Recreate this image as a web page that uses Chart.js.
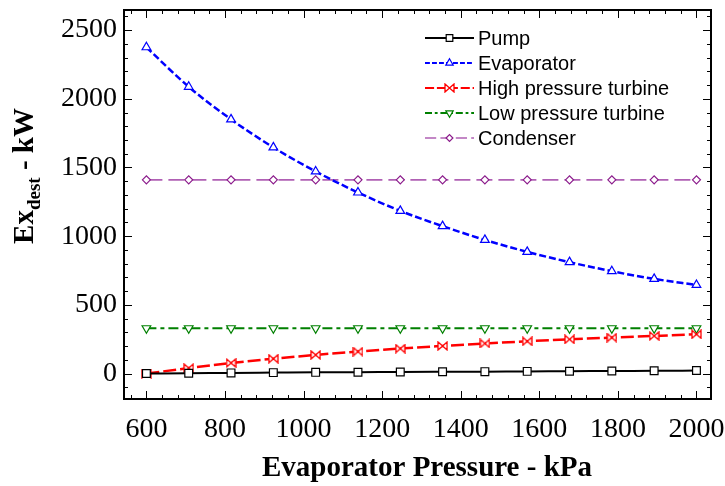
<!DOCTYPE html>
<html>
<head>
<meta charset="utf-8">
<script src="https://cdn.jsdelivr.net/npm/chart.js@4/dist/chart.umd.min.js"></script>
<style>
  html, body { margin: 0; padding: 0; background: #fff; }
  #wrap { width: 725px; height: 486px; }
</style>
</head>
<body>
<div id="wrap"><canvas id="c" width="725" height="486"></canvas></div>
<script>
// Evaporator pressure (kPa) and exergy destruction per component (kW)
const pressures  = [600, 707.7, 815.4, 923.1, 1030.8, 1138.5, 1246.2, 1353.8, 1461.5, 1569.2, 1676.9, 1784.6, 1892.3, 2000];
const pump       = [0, 2, 5, 7, 9, 10, 12, 13, 14, 16, 17, 19, 20, 22];
const evaporator = [2375, 2087, 1850, 1646, 1471, 1318, 1184, 1073, 973, 886, 811, 745, 689, 645];
const hpTurbine  = [0, 40, 77, 108, 136, 160, 182, 201, 219, 235, 249, 262, 274, 286];
const lpTurbine  = [330, 330, 330, 330, 330, 330, 330, 330, 330, 330, 330, 330, 330, 330];
const condenser  = [1410, 1410, 1410, 1410, 1410, 1410, 1410, 1410, 1410, 1410, 1410, 1410, 1410, 1410];

const seriesNames = ['Pump', 'Evaporator', 'High pressure turbine', 'Low pressure turbine', 'Condenser'];
const xTicks = [600, 800, 1000, 1200, 1400, 1600, 1800, 2000];
const yTicks = [0, 500, 1000, 1500, 2000, 2500];

const SERIF = '"Liberation Serif", "Times New Roman", serif';
const SANS = '"Liberation Sans", Arial, sans-serif';

// Open "bow-tie" marker for the high pressure turbine series
function bowtie(color) {
  const c = document.createElement('canvas');
  c.width = 11; c.height = 10;
  const g = c.getContext('2d');
  g.fillStyle = '#fff';
  g.strokeStyle = color;
  g.lineWidth = 1.3;
  g.beginPath();
  g.moveTo(1, 1); g.lineTo(5.5, 5); g.lineTo(1, 9); g.closePath();
  g.moveTo(10, 1); g.lineTo(5.5, 5); g.lineTo(10, 9); g.closePath();
  g.fill(); g.stroke();
  return c;
}

function pts(values) {
  return pressures.map((p, i) => ({ x: p, y: values[i] }));
}

const datasets = [
  { label: seriesNames[0], data: pts(pump), borderColor: '#000', borderWidth: 2, borderDash: [],
    pointStyle: 'rect', pointRadius: 5.5, pointBorderColor: '#000', pointBackgroundColor: '#fff', pointBorderWidth: 1.2 },
  { label: seriesNames[1], data: pts(evaporator), borderColor: '#0000ff', borderWidth: 2.5, borderDash: [7, 3],
    pointStyle: 'triangle', pointRadius: 5, pointBorderColor: '#0000ff', pointBackgroundColor: '#fff', pointBorderWidth: 1.2 },
  { label: seriesNames[2], data: pts(hpTurbine), borderColor: '#ff0000', borderWidth: 2.5, borderDash: [13, 4],
    pointStyle: bowtie('#ff0000'), pointRadius: 5, pointBorderColor: '#ff0000', pointBackgroundColor: '#fff' },
  { label: seriesNames[3], data: pts(lpTurbine), borderColor: '#008000', borderWidth: 2.2, borderDash: [10, 4, 4, 4],
    pointStyle: 'triangle', rotation: 180, pointRotation: 180, pointRadius: 5, pointBorderColor: '#008000', pointBackgroundColor: '#fff', pointBorderWidth: 1.2 },
  { label: seriesNames[4], data: pts(condenser), borderColor: '#b060b4', borderWidth: 1.6, borderDash: [16, 6],
    pointStyle: 'rectRot', pointRadius: 4, pointBorderColor: '#8b1a8b', pointBackgroundColor: '#fff', pointBorderWidth: 1.2 }
];
datasets.forEach(d => { d.cubicInterpolationMode = 'monotone'; d.fill = false; });

// Frame with inward major/minor ticks on all four sides
const framePlugin = {
  id: 'frame',
  afterDatasetsDraw(chart) {
    const { ctx, chartArea: a, scales: { x, y } } = chart;
    ctx.save();
    ctx.strokeStyle = '#000';
    ctx.lineWidth = 1;
    const tick = (x1, y1, x2, y2) => { ctx.beginPath(); ctx.moveTo(x1, y1); ctx.lineTo(x2, y2); ctx.stroke(); };
    for (let v = 560; v <= x.max; v += 40) {
      const px = Math.round(x.getPixelForValue(v)) + 0.5;
      const len = xTicks.includes(v) ? 8 : 4;
      tick(px, a.bottom, px, a.bottom - len);
      tick(px, a.top, px, a.top + len);
    }
    for (let v = -100; v <= y.max; v += 100) {
      const py = Math.round(y.getPixelForValue(v)) + 0.5;
      const len = yTicks.includes(v) ? 8 : 4;
      tick(a.left, py, a.left + len, py);
      tick(a.right, py, a.right - len, py);
    }
    ctx.lineWidth = 2;
    ctx.strokeRect(a.left, a.top, a.right - a.left, a.bottom - a.top);
    ctx.restore();
  }
};

// Legend: line sample with its marker in the middle, label to the right
const legendPlugin = {
  id: 'lineLegend',
  afterDraw(chart) {
    const { ctx } = chart;
    ctx.save();
    const x0 = 425, x1 = 474, y0 = 38, step = 25;
    chart.data.datasets.forEach((d, i) => {
      const yy = y0 + i * step;
      ctx.strokeStyle = d.borderColor;
      ctx.lineWidth = Math.min(d.borderWidth, 2);
      ctx.setLineDash(d.borderDash.map(n => n * 0.7));
      ctx.beginPath(); ctx.moveTo(x0, yy); ctx.lineTo(x1, yy); ctx.stroke();
      ctx.setLineDash([]);
      ctx.strokeStyle = d.pointBorderColor;
      ctx.fillStyle = d.pointBackgroundColor;
      ctx.lineWidth = d.pointBorderWidth || 1;
      Chart.helpers.drawPoint(ctx, {
        pointStyle: d.pointStyle, radius: d.pointRadius * 0.85, rotation: d.pointRotation || 0, borderWidth: d.pointBorderWidth || 1
      }, (x0 + x1) / 2, yy);
      ctx.fillStyle = '#000';
      ctx.font = '20px ' + SANS;
      ctx.textBaseline = 'middle';
      ctx.textAlign = 'left';
      ctx.fillText(d.label, x1 + 4, yy + 1);
    });
    ctx.restore();
  }
};

// Axis titles (the y title carries a subscript)
const titlePlugin = {
  id: 'axisTitles',
  afterDraw(chart) {
    const { ctx } = chart;
    ctx.save();
    ctx.fillStyle = '#000';
    ctx.font = 'bold 29px ' + SERIF;
    ctx.textAlign = 'center';
    ctx.textBaseline = 'middle';
    ctx.fillText('Evaporator Pressure - kPa', 427, 469);

    const big = 'bold 29px ' + SERIF, small = 'bold 19px ' + SERIF;
    const parts = [['Ex', big, 0], ['dest', small, 7], [' - kW', big, 0]];
    let total = 0;
    parts.forEach(p => { ctx.font = p[1]; total += ctx.measureText(p[0]).width; });
    ctx.translate(33, 176);
    ctx.rotate(-Math.PI / 2);
    ctx.textAlign = 'left';
    ctx.textBaseline = 'alphabetic';
    let cx = -total / 2;
    parts.forEach(p => {
      ctx.font = p[1];
      ctx.fillText(p[0], cx, p[2]);
      cx += ctx.measureText(p[0]).width;
    });
    ctx.restore();
  }
};

new Chart(document.getElementById('c'), {
  type: 'line',
  data: { datasets },
  options: {
    responsive: false,
    animation: false,
    devicePixelRatio: 1,
    layout: { padding: { top: 10, right: 14, left: 0, bottom: 0 } },
    plugins: { legend: { display: false }, tooltip: { enabled: false } },
    scales: {
      x: {
        type: 'linear', min: 543, max: 2037,
        afterBuildTicks: s => { s.ticks = xTicks.map(v => ({ value: v })); },
        afterFit: s => { s.height = 87; s.paddingLeft = 0; s.paddingRight = 0; },
        grid: { display: false, drawTicks: false },
        border: { display: false },
        ticks: { font: { family: SERIF, size: 28 }, color: '#000', padding: 14, maxRotation: 0, autoSkip: false,
                 callback: v => String(v) }
      },
      y: {
        type: 'linear', min: -185, max: 2646,
        afterBuildTicks: s => { s.ticks = yTicks.map(v => ({ value: v })); },
        afterFit: s => { s.width = 124; s.paddingTop = 0; s.paddingBottom = 0; },
        grid: { display: false, drawTicks: false },
        border: { display: false },
        ticks: { font: { family: SERIF, size: 28 }, color: '#000', padding: 7, autoSkip: false,
                 callback: v => String(v) }
      }
    }
  },
  plugins: [framePlugin, legendPlugin, titlePlugin]
});
</script>
</body>
</html>
